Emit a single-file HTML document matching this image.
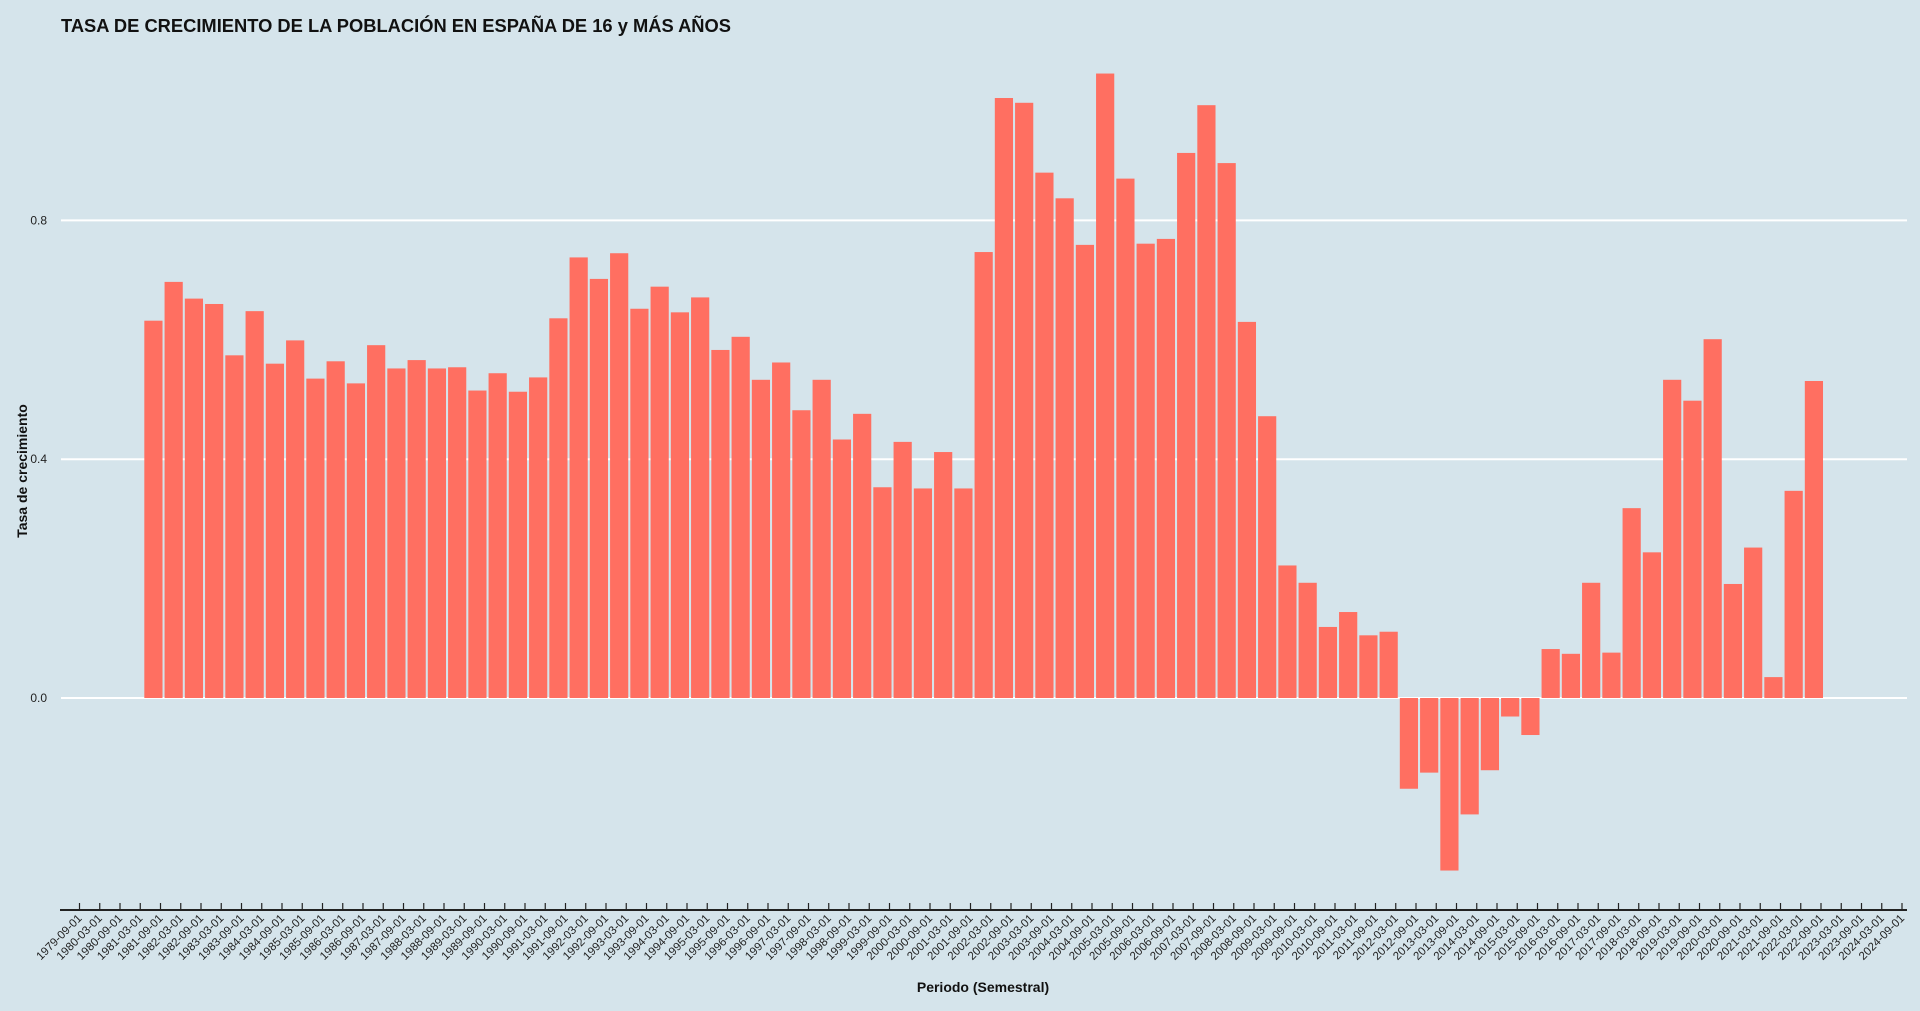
<!DOCTYPE html>
<html><head><meta charset="utf-8"><style>
html,body{margin:0;padding:0;background:#d5e4eb;}
svg{display:block;font-family:"Liberation Sans",sans-serif;}
</style></head><body>
<svg id="chart" width="1920" height="1011" viewBox="0 0 1920 1011">
<rect width="1920" height="1011" fill="#d5e4eb"/>
<text x="61" y="32" font-size="18" font-weight="bold" fill="#111" textLength="670" lengthAdjust="spacingAndGlyphs">TASA DE CRECIMIENTO DE LA POBLACIÓN EN ESPAÑA DE 16 y MÁS AÑOS</text>
<text transform="translate(27,471) rotate(-90)" text-anchor="middle" font-size="14" font-weight="bold" fill="#111">Tasa de crecimiento</text>
<text x="983" y="992" text-anchor="middle" font-size="14" font-weight="bold" fill="#111">Periodo (Semestral)</text>
<g id="grid"></g><g id="bars"></g><g id="xaxis"></g>
</svg>
<script>
const yTicks=[0,0.4,0.8];
const yTickLabels=["0.0","0.4","0.8"];
const firstTickYear=1979, tickCount=91;
const values=[0.632,0.697,0.669,0.660,0.574,0.648,0.560,0.599,0.535,0.564,0.527,0.591,0.552,0.566,0.552,0.554,0.515,0.544,0.513,0.537,0.636,0.738,0.702,0.745,0.652,0.689,0.646,0.671,0.583,0.605,0.533,0.562,0.482,0.533,0.433,0.476,0.353,0.429,0.351,0.412,0.351,0.747,1.005,0.997,0.880,0.837,0.759,1.046,0.870,0.761,0.769,0.913,0.993,0.896,0.630,0.472,0.222,0.193,0.119,0.144,0.105,0.111,-0.152,-0.125,-0.289,-0.195,-0.121,-0.031,-0.062,0.082,0.074,0.193,0.076,0.318,0.244,0.533,0.498,0.601,0.191,0.252,0.035,0.347,0.531];
const NS="http://www.w3.org/2000/svg";
const x=i=>79.5+i*20.25;
const y=v=>698-v*597;
const axisY=910;
function mk(t,a,p){const e=document.createElementNS(NS,t);for(const k in a)e.setAttribute(k,a[k]);p.appendChild(e);return e;}
const grid=document.getElementById('grid'),bars=document.getElementById('bars'),xa=document.getElementById('xaxis');
yTicks.forEach((v,k)=>{
 const l=mk('line',{x1:61,x2:1907,y1:y(v),y2:y(v),stroke:'#fff','stroke-width':2},grid);
 
 
 const t=mk('text',{x:47,y:y(v)+4,'text-anchor':'end','font-size':12,fill:'#222'},grid);
 t.textContent=yTickLabels[k];
 
 
});
const bw=18.2;
values.forEach((v,i)=>{
 const c=x(3.65+i);
 const r=mk('rect',{x:c-bw/2,y:Math.min(y(v),y(0)),width:bw,height:Math.abs(y(v)-y(0)),fill:'#ff6f61'},bars);
 
 
});
const ax=mk('line',{x1:60,x2:1907,y1:axisY,y2:axisY,stroke:'#222','stroke-width':2},xa);


for(let i=0;i<tickCount;i++){
 const yr=firstTickYear+Math.floor((i+1)/2);
 const lab=yr+(i%2===0?'-09-01':'-03-01');
 const tk=mk('line',{x1:x(i),x2:x(i),y1:axisY-7,y2:axisY,stroke:'#222','stroke-width':1.2},xa);
 
 
 const t=mk('text',{transform:`translate(${x(i)+3},${axisY+9}) rotate(-45)`,'text-anchor':'end','font-size':11.5,fill:'#222'},xa);
 t.textContent=lab;
 
 
}
</script>
</body></html>
